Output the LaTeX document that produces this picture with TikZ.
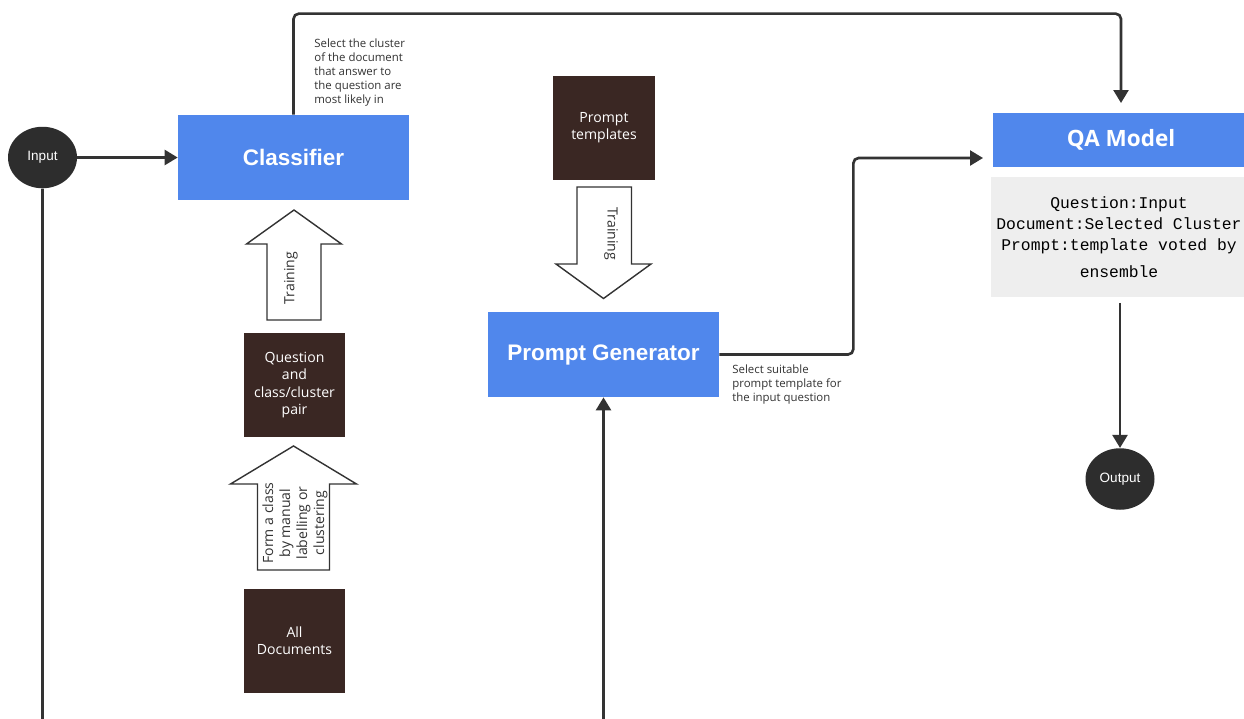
\documentclass[tikz,border=0pt]{standalone}
\usepackage{fontspec}
\setmainfont{Liberation Sans}
\newfontfamily\opensans{Open Sans}
\newfontfamily\curier{Liberation Mono}
\usetikzlibrary{positioning,arrows.meta,calc,shapes.geometric}
\definecolor{albastru}{RGB}{80,135,236}
\definecolor{maro}{RGB}{58,39,35}
\definecolor{negru}{RGB}{45,45,45}
\definecolor{linie}{RGB}{51,51,51}
\definecolor{gri}{RGB}{238,238,238}
\tikzset{
  modul/.style    = {fill=albastru, text=white, inner sep=0pt,
                     minimum width=4.62cm, minimum height=1.7cm,
                     font=\fontsize{12.8}{15}\selectfont\bfseries},
  cutie/.style    = {fill=maro, text=white, align=center, inner sep=0pt,
                     minimum width=2.04cm, minimum height=2.08cm,
                     font=\opensans\fontsize{8}{9.7}\selectfont},
  terminal/.style = {ellipse, fill=negru, text=white, inner sep=0pt,
                     minimum width=1.38cm, minimum height=1.23cm,
                     font=\fontsize{7.7}{9}\selectfont},
  conector/.style = {-{Triangle[length=7.4pt,width=8.5pt]}, line width=1.5pt,
                     draw=linie, rounded corners=3pt},
  nota/.style     = {font=\opensans\fontsize{6.5}{8}\selectfont, text=linie,
                     align=left, inner sep=0pt},
  gol/.style      = {draw=linie, line width=0.8pt, fill=white},
  textgol/.style  = {font=\opensans\fontsize{8}{9.7}\selectfont, text=linie,
                     align=center, inner sep=0pt}
}
\begin{document}
\begin{tikzpicture}[x=0.02cm, y=-0.02cm]
    \path[use as bounding box, fill=white] (0,0) rectangle (1244,718);

    % left column
    \node[terminal] (inp) at (42.5,157.5) {Input};
    \node[modul] (cls) at (293.5,157.5) {Classifier};
    \node[cutie] (pereche) at (294.5,385) {Question\\and\\class/cluster\\pair};
    \node[cutie] (docs) at (294.5,640.5) {All\\Documents};
    \node[nota, anchor=north west] (nota1) at (314,38)
        {Select the cluster\\of the document\\that answer to\\the question are\\most likely in};

    % middle column
    \node[cutie] (tpl) at (604,128) {Prompt\\templates};
    \node[modul] (pg) at (603.5,354.5) {Prompt Generator};
    \node[nota, anchor=north west] (nota2) at (732,364)
        {Select suitable\\prompt template for\\the input question};

    % right column
    \node[modul, minimum width=5.12cm, minimum height=1.08cm, outer sep=0.2cm,
          font=\opensans\fontsize{12.8}{15}\selectfont\bfseries] (qa) at (1121,140) {QA Model};
    \node[fill=gri, minimum width=5.12cm, minimum height=2.4cm, inner sep=0pt,
          outer sep=0.12cm, align=center, text=black,
          font=\curier\fontsize{9.3}{12}\selectfont] (qain) at (1119,237)
        {Question:Input\\Document:Selected Cluster\\Prompt:template voted by\\[3pt]ensemble};
    \node[terminal] (out) at (1120,479) {Output};

    % hollow arrows
    \draw[gol] (294,210) -- (341.5,244) -- (321,244) -- (321,320) -- (267,320)
        -- (267,244) -- (246.5,244) -- cycle;
    \node[textgol, rotate=90] (antr1) at (291,278) {Training};
    \draw[gol] (293.5,446) -- (356.5,484) -- (329.5,484) -- (329.5,570) -- (257.5,570)
        -- (257.5,484) -- (230.5,484) -- cycle;
    \node[textgol, rotate=90] (forma) at (295,523) {Form a class\\by manual\\labelling or\\clustering};
    \draw[gol] (577,187) -- (631.5,187) -- (631.5,264) -- (651,264) -- (603.5,298.5)
        -- (556,264) -- (577,264) -- cycle;
    \node[textgol, rotate=-90] (antr2) at (611,234) {Training};

    % connectors
    \draw[conector] (inp) -- (cls);
    \draw[conector] (cls.north) -- ++(0,-101) -| (qa.north);
    \draw[conector] (pg.east) -- ++(134,0) |- ($(qa.west)+(0,18)$);
    \draw[conector] (qain.south -| out.north) -- (out.north);
    \draw[conector] (inp.south) -- ++(0,537) -| (pg.south);
\end{tikzpicture}
\end{document}
